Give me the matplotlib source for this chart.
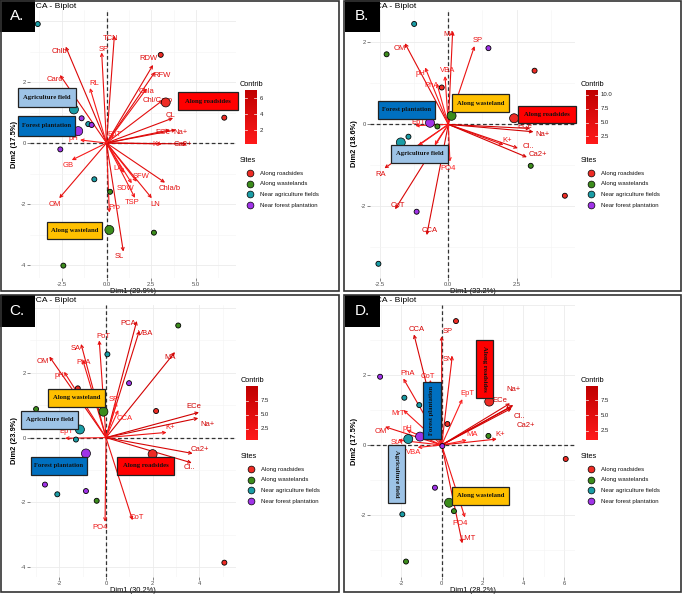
import numpy as np
import matplotlib
matplotlib.use('Agg')
import matplotlib.pyplot as plt
from matplotlib.patches import Rectangle
from matplotlib.colors import LinearSegmentedColormap

W, H = 685, 594
DPI = 100
plt.rcParams['font.family'] = ['Liberation Sans', 'DejaVu Sans']

# ---------------- data ----------------
SITES = ['Along roadsides', 'Along wastelands', 'Near agriculture fields', 'Near forest plantation']
SITE_COLORS = ['#EE2B24', '#3C8C1C', '#1A9DA6', '#A033E8']

# Panel A
a_vars = ['TCN', 'SP', 'Chlb', 'Caro', 'RL', 'RDW', 'RFW', 'Chla', 'Chl/Caro', 'CL', 'ECe', 'Na+',
          'K+', 'Ca2+', 'pH', 'GB', 'OM', 'LA', 'SFW', 'SDW', 'TSP', 'LN', 'Chla/b', 'Pro', 'SL', 'EpT']
a_vx = [0.44, -0.27, -2.28, -2.6, -0.92, 2.6, 2.71, 2.25, 3.16, 3.72, 3.55, 3.88,
        3.1, 4.5, -1.48, -1.94, -2.64, 0.98, 1.69, 1.41, 1.59, 2.53, 3.27, 0.16, 0.94, 0.4]
a_vy = [3.52, 2.97, 3.16, 2.23, 1.80, 2.56, 2.33, 1.79, 1.41, 0.82, 0.43, 0.43,
        -0.03, -0.03, 0.10, -0.56, -1.81, -0.98, -1.27, -1.32, -1.80, -1.81, -1.30, -2.28, -3.56, 0.28]
a_ind_x = [-3.84, 3.03, 6.58, -1.39, -1.02, -0.83, -2.58, -0.68, 0.20, 2.65, -2.41]
a_ind_y = [3.90, 2.89, 0.83, 0.81, 0.62, 0.59, -0.21, -1.19, -1.60, -2.94, -4.02]
a_ind_site = [2, 0, 0, 3, 2, 3, 3, 2, 1, 1, 1]
a_cen_x = [3.31, 0.16, -1.82, -1.58]
a_cen_y = [1.33, -2.85, 1.10, 0.39]

# Panel B
b_vars = ['MA', 'SP', 'OM', 'pH', 'VBA', 'PhA', 'EpT', 'ECe', 'Na+', 'K+', 'Cl..', 'Ca2+',
          'RA', 'CoT', 'CCA', 'PO4', 'StA', 'MrT']
b_vx = [0.16, 0.96, -1.59, -0.85, -0.12, -0.42, -1.21, 3.0, 3.12, 2.02, 2.55, 2.88,
        -2.34, -1.95, -0.79, 0.06, -1.1, -0.5]
b_vy = [2.28, 1.91, 1.98, 1.39, 1.18, 1.0, -0.03, -0.10, -0.18, -0.50, -0.58, -0.80,
        -1.07, -2.07, -2.70, -0.91, -0.52, -0.50]
b_ind_x = [-1.25, -2.26, 1.47, 3.16, -0.24, -0.40, -1.46, 3.02, 4.27, -1.16, -2.56]
b_ind_y = [2.45, 1.71, 1.86, 1.31, 0.90, -0.05, -0.30, -1.01, -1.74, -2.13, -3.40]
b_ind_site = [2, 1, 3, 0, 0, 1, 2, 1, 0, 3, 2]
b_cen_x = [2.41, 0.12, -1.74, -0.67]
b_cen_y = [0.15, 0.21, -0.44, 0.04]

# Panel C
c_vars = ['PCA', 'VBA', 'PoT', 'SA', 'OM', 'MA', 'PhA', 'pH', 'SP', 'CCA', 'ECe', 'Na+',
          'K+', 'EpT', 'Ca2+', 'Cl..', 'CoT', 'PO4']
c_vx = [1.32, 1.43, -0.29, -1.07, -2.43, 2.96, -1.0, -1.8, 0.46, 0.53, 3.99, 3.96,
        2.6, -1.76, 3.72, 3.68, 1.14, -0.04]
c_vy = [3.6, 3.3, 3.0, 2.89, 2.5, 2.64, 2.4, 2.03, 1.1, 0.85, 0.78, 0.6,
        0.16, -0.02, -0.49, -0.78, -2.55, -2.6]
c_ind_x = [3.10, 0.06, 0.99, -1.21, 2.15, -3.00, -1.29, -2.62, -2.09, -0.86, -0.40, 5.08]
c_ind_y = [3.46, 2.57, 1.68, 1.52, 0.82, 0.88, -0.06, -1.45, -1.75, -1.65, -1.95, -3.86]
c_ind_site = [1, 2, 3, 0, 0, 1, 2, 3, 2, 3, 1, 0]
c_cen_x = [2.0, -0.11, -1.12, -0.86]
c_cen_y = [-0.51, 0.80, 0.25, -0.49]

# Panel D
d_vars = ['CCA', 'SP', 'SN', 'PhA', 'CoT', 'EpT', 'Na+', 'ECe', 'Cl..', 'Ca2+', 'MrT', 'OM',
          'pH', 'StA', 'MA', 'K+', 'VBA', 'PO4', 'LMT']
d_vx = [-1.36, 0.0, 0.52, -1.88, -0.57, 1.01, 3.51, 3.35, 3.40, 3.43, -1.88, -2.78,
        -1.72, -2.14, 1.23, 2.70, -1.18, 1.14, 1.01]
d_vy = [3.16, 3.11, 2.55, 1.90, 1.86, 1.31, 1.14, 1.19, 1.09, 1.05, 1.00, 0.52,
        0.43, 0.14, 0.14, 0.17, -0.07, -2.07, -2.81]
d_ind_x = [0.70, -3.02, -1.83, -1.10, 0.28, 2.29, 0.03, 6.08, -0.33, 0.60, -1.93, -1.75]
d_ind_y = [3.54, 1.95, 1.35, 1.14, 0.60, 0.26, -0.03, -0.40, -1.22, -1.89, -1.98, -3.33]
d_ind_site = [0, 3, 2, 2, 0, 1, 3, 0, 3, 1, 2, 1]
d_cen_x = [2.33, 0.36, -1.64, -1.06]
d_cen_y = [1.24, -1.65, 0.17, 0.24]

dim_labels = [('Dim1 (29.9%)', 'Dim2 (17.5%)'), ('Dim1 (33.2%)', 'Dim2 (18.6%)'),
              ('Dim1 (30.2%)', 'Dim2 (23.9%)'), ('Dim1 (28.2%)', 'Dim2 (17.5%)')]
x_ticks = [[-2.5, 0.0, 2.5, 5.0], [-2.5, 0.0, 2.5], [-2, 0, 2, 4], [-2, 0, 2, 4, 6]]
x_ticklabels = [['-2.5', '0.0', '2.5', '5.0'], ['-2.5', '0.0', '2.5'],
                ['-2', '0', '2', '4'], ['-2', '0', '2', '4', '6']]
y_ticks = [[-4, -2, 0, 2, 4], [-2, 0, 2], [-4, -2, 0, 2, 4], [-2, 0, 2, 4]]
contrib_range = [(0.25, 7.0), (1.1, 10.9), (0.54, 10.1), (0.95, 9.8)]
contrib_ticks = [[2, 4, 6], [2.5, 5.0, 7.5, 10.0], [2.5, 5.0, 7.5], [2.5, 5.0, 7.5]]
contrib_ticklabels = [['2', '4', '6'], ['2.5', '5.0', '7.5', '10.0'], ['2.5', '5.0', '7.5'], ['2.5', '5.0', '7.5']]
panel_letters = ['A.', 'B.', 'C.', 'D.']

# ---------------- layout (pixels) ----------------
layouts = [
    dict(box=(30, 10, 236, 278), x0=106.5, sx=17.9, y0=143.0, sy=30.5, off=(0, 0)),
    dict(box=(370, 10, 575, 278), x0=448.3, sx=27.3, y0=124.4, sy=41.0, off=(345, 0)),
    dict(box=(30, 305, 236, 577), x0=106.0, sx=23.3, y0=437.6, sy=32.4, off=(0, 295)),
    dict(box=(370, 305, 575, 577), x0=441.7, sx=20.4, y0=445.0, sy=35.0, off=(345, 295)),
]
# label nudges relative to arrow tip, in pixels (x right, y down)
label_nudge = [
    {'TCN': (-4, 3), 'SP': (2, -3), 'Chlb': (-6, 5), 'Caro': (-5, 5), 'RL': (4, -5), 'RDW': (-5, -6),
     'RFW': (7, 4), 'Chla': (0, 3), 'Chl/Caro': (-5, 1), 'CL': (-3, -2), 'ECe': (-7, 3), 'Na+': (5, 3),
     'K+': (-5, 1), 'Ca2+': (-4, 1), 'pH': (-7, -1), 'GB': (-4, 5), 'OM': (-4, 6), 'LA': (-6, -4),
     'SFW': (4, -5), 'SDW': (-6, 5), 'TSP': (-3, 5), 'LN': (3, 6), 'Chla/b': (5, 6), 'Pro': (5, -5),
     'SL': (-4, 5), 'EpT': (1, 0)},
    {'MA': (-4, 4), 'SP': (3, -6), 'OM': (-5, 5), 'pH': (-5, 6), 'VBA': (3, -6), 'PhA': (-5, 2),
     'EpT': (3, -3), 'ECe': (-5, -2), 'Na+': (9, 3), 'K+': (4, -4), 'Cl..': (10, -2), 'Ca2+': (11, -3),
     'RA': (-4, 6), 'CoT': (3, -4), 'CCA': (3, -5), 'PO4': (-2, 7)},
    {'PCA': (-9, 3), 'VBA': (6, 3), 'PoT': (4, -4), 'SA': (-5, 5), 'OM': (-7, 5), 'MA': (-5, 5),
     'PhA': (1, 3), 'pH': (-5, 4), 'SP': (-3, -2), 'CCA': (6, 8), 'ECe': (-5, -6), 'Na+': (9, 6),
     'K+': (4, -5), 'EpT': (1, -7), 'Ca2+': (7, -4), 'Cl..': (-2, 5), 'CoT': (4, -3), 'PO4': (-5, 6)},
    {'CCA': (3, -5), 'SP': (6, -5), 'SN': (-4, 4), 'PhA': (4, -5), 'CoT': (-2, -3), 'EpT': (5, -6),
     'Na+': (0, -16), 'ECe': (-10, -3), 'Cl..': (8, 10), 'Ca2+': (14, 17), 'MrT': (-5, 4),
     'OM': (-4, 5), 'pH': (1, -1), 'StA': (-1, 2), 'MA': (5, -6), 'K+': (3, -5), 'VBA': (-4, 5),
     'PO4': (-5, 6), 'LMT': (6, -5)},
]
# labels that sit fully under a group box in the reference (not visible)
hidden_labels = [set(), {'StA', 'MrT'}, set(), set()]
LB = '#9DC3E6'; BL = '#0070C0'; RD = '#FF0000'; OR = '#FFC000'
group_boxes = [
    [('Agriculture field', 18, 88, 58, 19, LB, 0), ('Forest plantation', 18, 116, 57, 20, BL, 0),
     ('Along roadsides', 178, 92, 60, 18, RD, 0), ('Along wasteland', 47, 222, 55, 17, OR, 0)],
    [('Forest plantation', 378, 101, 57, 18, BL, 0), ('Along wasteland', 452, 94, 57, 18, OR, 0),
     ('Along roadsides', 518, 106, 58, 17, RD, 0), ('Agriculture field', 391, 145, 57, 18, LB, 0)],
    [('Along wasteland', 48, 389, 57, 18, OR, 0), ('Agriculture field', 21, 411, 57, 18, LB, 0),
     ('Forest plantation', 31, 457, 56, 18, BL, 0), ('Along roadsides', 117, 457, 57, 18, RD, 0)],
    [('Along roadsides', 476, 340, 17, 58, RD, 270), ('Forest plantation', 423, 382, 18, 57, BL, 90),
     ('Agriculture field', 388, 445, 17, 58, LB, 270), ('Along wasteland', 452, 487, 57, 18, OR, 0)],
]
legend_pos = [(245, 84), (586, 84), (246, 380), (586, 380)]
frames = [(1, 1, 339, 291), (344, 1, 681, 291), (1, 295, 339, 592), (344, 295, 681, 592)]
PT = 72.0 / DPI  # points per pixel

fig = plt.figure(figsize=(W / DPI, H / DPI), dpi=DPI)
fig.patch.set_facecolor('white')

arrow_cmap = LinearSegmentedColormap.from_list('arr', ['#FF2020', '#D00000'])
bar_cmap = LinearSegmentedColormap.from_list('bar', ['#FF1A1A', '#C00000'])

panels = [
    (a_vars, a_vx, a_vy, a_ind_x, a_ind_y, a_ind_site, a_cen_x, a_cen_y),
    (b_vars, b_vx, b_vy, b_ind_x, b_ind_y, b_ind_site, b_cen_x, b_cen_y),
    (c_vars, c_vx, c_vy, c_ind_x, c_ind_y, c_ind_site, c_cen_x, c_cen_y),
    (d_vars, d_vx, d_vy, d_ind_x, d_ind_y, d_ind_site, d_cen_x, d_cen_y),
]

for i, (vars_, vx, vy, ix, iy, isite, cx, cy) in enumerate(panels):
    L = layouts[i]
    l, t, r, b = L['box']
    ox_, oy_ = L['off']
    ax = fig.add_axes([l / W, 1 - b / H, (r - l) / W, (b - t) / H])
    for s in ax.spines.values():
        s.set_visible(False)
    xt = np.array(x_ticks[i], float); yt = np.array(y_ticks[i], float)
    dx = xt[1] - xt[0]; dy = yt[1] - yt[0]
    ax.set_xticks(xt)
    ax.set_xticklabels(x_ticklabels[i])
    ax.set_yticks(yt)
    ylabs = []
    for v in y_ticks[i]:
        ypix = L['y0'] - v * L['sy']
        ylabs.append('' if ypix < oy_ + 33 else str(v))
    ax.set_yticklabels(ylabs)
    ax.set_xticks(np.arange(xt[0] - 3 * dx - dx / 2, xt[-1] + 3 * dx, dx), minor=True)
    ax.set_yticks(np.arange(yt[0] - 3 * dy - dy / 2, yt[-1] + 3 * dy, dy), minor=True)
    ax.grid(which='major', color='#EBEBEB', lw=0.6)
    ax.grid(which='minor', color='#F4F4F4', lw=0.4)
    ax.set_axisbelow(True)
    ax.tick_params(which='minor', length=0)
    ax.tick_params(which='major', length=2, width=0.5, color='#555555', labelsize=4.2,
                   labelcolor='#4D4D4D', pad=0.8)
    ax.set_xlabel(dim_labels[i][0], fontsize=5.4, labelpad=0.5)
    ax.set_ylabel(dim_labels[i][1], fontsize=5.4, labelpad=2, fontweight='bold')
    ax.axhline(0, color='#333333', ls=(0, (3, 2)), lw=0.9, zorder=1)
    ax.axvline(0, color='#333333', ls=(0, (3, 2)), lw=0.9, zorder=1)

    vx = np.array(vx); vy = np.array(vy)
    contrib = vx ** 2 + vy ** 2
    cn = (contrib - contrib.min()) / (contrib.max() - contrib.min())
    for name, x, y, c in zip(vars_, vx, vy, cn):
        col = arrow_cmap(c)
        ax.annotate('', xy=(x, y), xytext=(0, 0),
                    arrowprops=dict(arrowstyle='->', color=col, lw=0.8, mutation_scale=5,
                                    shrinkA=0, shrinkB=0), zorder=3)
        if name in hidden_labels[i]:
            continue
        if name in label_nudge[i]:
            nx, ny = label_nudge[i][name]
        else:
            px, py = x * L['sx'], -y * L['sy']
            n = np.hypot(px, py)
            nx, ny = 4 * px / n, 4 * py / n
        ax.annotate(name, xy=(x, y), xytext=(nx * PT, -ny * PT), textcoords='offset points',
                    ha='center', va='center', fontsize=5.5, color=col, zorder=4)

    cols = [SITE_COLORS[s] for s in isite]
    ax.scatter(ix, iy, s=13, c=cols, edgecolors='black', linewidths=0.6, zorder=5)
    ax.scatter(cx, cy, s=42, c=SITE_COLORS, edgecolors='black', linewidths=0.5, zorder=6)
    ax.set_xlim((l - L['x0']) / L['sx'], (r - L['x0']) / L['sx'])
    ax.set_ylim((L['y0'] - b) / L['sy'], (L['y0'] - t) / L['sy'])

# ---------------- overlay ----------------
ov = fig.add_axes([0, 0, 1, 1], zorder=20)
ov.axis('off')
ov.patch.set_alpha(0)

for i in range(4):
    L = layouts[i]
    l, t, r, b = L['box']
    ox, oy = L['off']
    ov.text(l, oy + 6, 'PCA - Biplot', fontsize=6.1, ha='left', va='center', color='black')
    ov.add_patch(Rectangle((ox, oy), 35, 32, facecolor='black', edgecolor='none', zorder=5))
    ov.text(ox + 17, oy + 16, panel_letters[i], color='white', fontsize=11, ha='center',
            va='center', zorder=6)
    for (txt, bx, by, bw, bh, fc, rot) in group_boxes[i]:
        ov.add_patch(Rectangle((bx, by), bw, bh, facecolor=fc, edgecolor='#222222', lw=0.9, zorder=3))
        ov.text(bx + bw / 2, by + bh / 2, txt, rotation=rot, ha='center', va='center',
                fontsize=4.8, fontweight='bold', family='Liberation Serif', color='#111111', zorder=4)
    lx, ly = legend_pos[i]
    ov.text(lx - 5, ly, 'Contrib', fontsize=5.3, ha='left', va='center')
    bx0, by0, bw, bh = lx, ly + 6, 12, 54
    grad = np.linspace(1, 0, 100).reshape(-1, 1)
    ov.imshow(grad, cmap=bar_cmap, extent=[bx0, bx0 + bw, by0 + bh, by0], aspect='auto', zorder=2)
    vmin, vmax = contrib_range[i]
    for tv, tl in zip(contrib_ticks[i], contrib_ticklabels[i]):
        yy = by0 + bh - (tv - vmin) / (vmax - vmin) * bh
        ov.plot([bx0, bx0 + 2.5], [yy, yy], color='white', lw=0.5, zorder=3)
        ov.plot([bx0 + bw - 2.5, bx0 + bw], [yy, yy], color='white', lw=0.5, zorder=3)
        ov.text(bx0 + bw + 2.5, yy, tl, fontsize=4.3, ha='left', va='center', color='#222222')
    ov.text(lx - 5, ly + 77, 'Sites', fontsize=5.3, ha='left', va='center')
    for k, (sname, scol) in enumerate(zip(SITES, SITE_COLORS)):
        yy = ly + 89 + k * 10.7
        ov.scatter([lx + 5], [yy], s=24, c=[scol], edgecolors='black', linewidths=0.5, zorder=4)
        ov.text(lx + 15, yy, sname, fontsize=4.3, ha='left', va='center', color='#111111')
    fx0, fy0, fx1, fy1 = frames[i]
    ov.add_patch(Rectangle((fx0, fy0), fx1 - fx0, fy1 - fy0, facecolor='none',
                           edgecolor='#333333', lw=1.2, zorder=7))

ov.set_xlim(0, W)
ov.set_ylim(H, 0)

fig.savefig('out.png', dpi=DPI, facecolor='white')
